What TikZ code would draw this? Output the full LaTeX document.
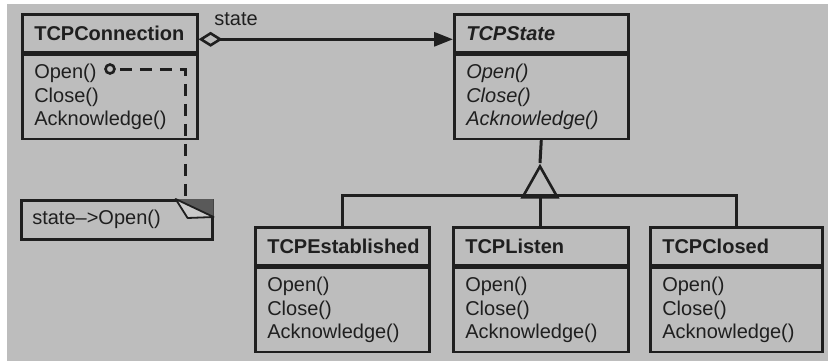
\documentclass[tikz,border=0pt]{standalone}
\usepackage{fontspec}
\setmainfont{Liberation Sans}
\usetikzlibrary{arrows.meta,shapes.geometric}
\definecolor{paper}{gray}{0.74}
\definecolor{ink}{gray}{0.12}
\definecolor{foldd}{gray}{0.35}
\newcommand\umlclass[7]{% #1 name, #2 x, #3 y, #4 width, #5 title, #6 methods, #7 font
  \pgfmathsetmacro\umltw{#4-24}%
  \node[hdrbox, minimum width=#4pt, text width=\umltw pt, font=\umlfont\bfseries#7] (#1H) at (#2,#3) {#5};
  \node[bodybox, minimum width=#4pt, text width=\umltw pt, font=\umlfont#7] (#1B) at (#1H.south) {#6};}
\newcommand\umlfont{\fontsize{20}{23.5}\selectfont}
\begin{document}
\begin{tikzpicture}[x=1pt,y=-1pt,
  font=\umlfont,
  hdrbox/.style={draw=ink, line width=2.6pt, anchor=north west, minimum height=38pt,
    inner xsep=12pt, inner ysep=0pt, align=left, text=ink},
  bodybox/.style={draw=ink, line width=2.6pt, anchor=north, minimum height=84pt,
    inner xsep=12pt, inner ysep=0pt, align=left, text=ink},
  wire/.style={draw=ink, line width=3pt}]
\fill[paper] (7,4) rectangle (828,361);
\useasboundingbox (0,0) rectangle (828,362);

\umlclass{conn}{21}{13}{175}{TCPConnection}{Open()\\Close()\\Acknowledge()}{}
\umlclass{state}{453}{13}{174}{TCPState}{Open()\\Close()\\Acknowledge()}{\itshape}
\umlclass{est}{254}{226}{174}{TCPEstablished}{Open()\\Close()\\Acknowledge()}{}
\umlclass{listen}{452}{226}{175}{TCPListen}{Open()\\Close()\\Acknowledge()}{}
\umlclass{closed}{649}{226}{172}{TCPClosed}{Open()\\Close()\\Acknowledge()}{}

% note
\node[draw=ink, line width=2.6pt, anchor=north west, minimum width=191pt, minimum height=39pt,
  inner xsep=11pt, inner ysep=0pt, text width=169pt, align=left, text=ink] (note) at (20,199) {state--{}>Open()};
\fill[foldd] (note.north east) ++(-38,0) -- (note.north east) -- ++(0,18) -- cycle;
\filldraw[fill=paper!80!white, draw=ink, line width=1.8pt, line join=round]
  (note.north east) ++(-38,0) -- ++(12,19) -- ++(26,-1) -- cycle;

% aggregation
\draw[wire, line width=3pt, {Diamond[open, length=24pt, width=15pt, line width=2.6pt]}-{Triangle[length=19pt, width=14pt]}]
  ([yshift=-6pt]connH.east) -- ([yshift=-6pt]stateH.west);
\node[text=ink, inner sep=0pt] (lbl) at (236,19) {state};

% implementation note link
\node[circle, draw=ink, line width=2.6pt, minimum size=9pt, inner sep=0pt] (hook) at (110,69) {};
\coordinate (bend) at (185,69);
\draw[wire, line width=3pt, dash pattern=on 12pt off 8pt, dash phase=-4pt] (hook) -- (bend) -- (bend |- note.north);

% inheritance
\node[draw=ink, line width=2.6pt, isosceles triangle, shape border rotate=90,
  isosceles triangle stretches, minimum width=35pt, minimum height=31pt, inner sep=0pt,
  anchor=apex, fill=paper] (tri) at (540,163) {};
\coordinate (bus) at (540,195);
\draw[wire, line width=3pt] (stateB.south) -- (tri.apex);
\draw[wire, line width=3pt] (estH.north) |- (bus) -| (closedH.north);
\draw[wire, line width=3pt] (listenH.north) -- (listenH.north |- bus);
\end{tikzpicture}
\end{document}
